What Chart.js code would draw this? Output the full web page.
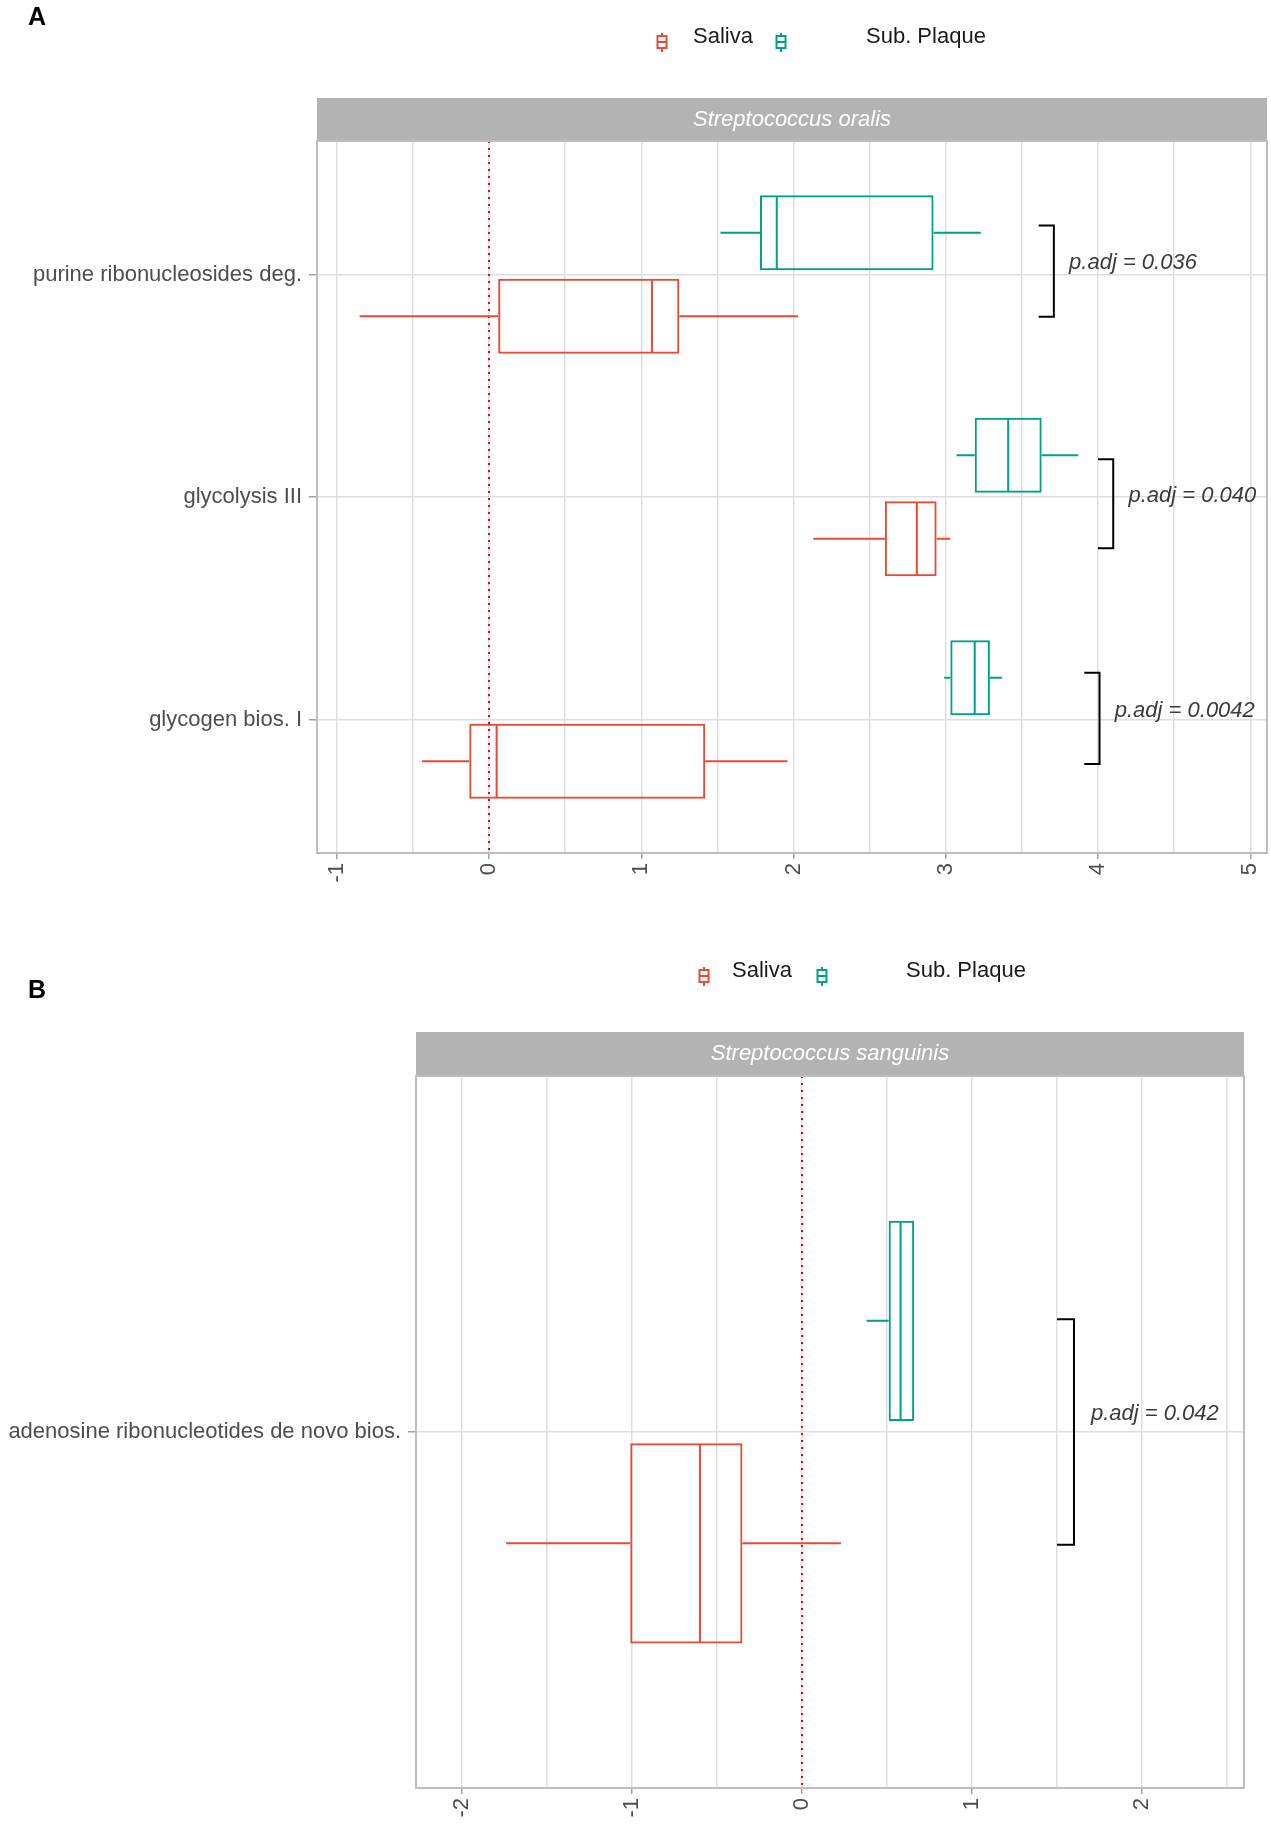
<!DOCTYPE html>
<html>
<head>
<meta charset="utf-8">
<script src="https://cdn.jsdelivr.net/npm/chart.js@4.4.1/dist/chart.umd.min.js"></script>
<style>
  body { margin: 0; background: #fff; width: 1271px; height: 1827px; position: relative; overflow: hidden;
         font-family: "Liberation Sans", Arial, sans-serif; }
  .panel { position: absolute; left: 0; }
  .tag { position: absolute; left: 28px; font-weight: bold; font-size: 25px; color: #000; z-index: 2; }
</style>
</head>
<body>
<div class="panel" style="top:0"><canvas id="chartA" width="1271" height="900"></canvas></div>
<div class="panel" style="top:900px"><canvas id="chartB" width="1271" height="927"></canvas></div>
<div class="tag" style="top:2px">A</div>
<div class="tag" style="top:975px">B</div>
<script>
const SALIVA = '#E64B35';
const PLAQUE = '#00A087';
const FONT = '"Liberation Sans", Arial, sans-serif';

// rows are [min, q1, median, q3, max]
const oralisPathways = ['purine ribonucleosides deg.', 'glycolysis III', 'glycogen bios. I'];
const oralisSaliva = [[-0.85, 0.06, 1.07, 1.25, 2.03], [2.13, 2.60, 2.81, 2.94, 3.03], [-0.44, -0.13, 0.05, 1.42, 1.96]];
const oralisPlaque = [[1.52, 1.78, 1.89, 2.92, 3.23], [3.07, 3.19, 3.41, 3.63, 3.87], [2.99, 3.03, 3.19, 3.29, 3.37]];
const oralisPadj = ['0.036', '0.040', '0.0042'];
const oralisBracketX = [3.71, 4.10, 4.01];
const oralisBracketFrom = [-0.22, 0.83, 1.79];
const oralisBracketTo = [0.19, 1.23, 2.20];
const oralisTicks = [-1, 0, 1, 2, 3, 4, 5];

const sanguinisPathways = ['adenosine ribonucleotides de novo bios.'];
const sanguinisSaliva = [[-1.74, -1.01, -0.60, -0.35, 0.23]];
const sanguinisPlaque = [[0.38, 0.51, 0.58, 0.66, 0.66]];
const sanguinisPadj = ['0.042'];
const sanguinisBracketX = [1.60];
const sanguinisBracketFrom = [-0.19];
const sanguinisBracketTo = [0.19];
const sanguinisTicks = [-2, -1, 0, 1, 2];

Chart.defaults.font.family = FONT;

function legendIcon(ctx, x, y, color) {
  ctx.strokeStyle = color;
  ctx.lineWidth = 2;
  ctx.beginPath();
  ctx.moveTo(x, y - 9); ctx.lineTo(x, y - 6);
  ctx.moveTo(x, y + 6); ctx.lineTo(x, y + 10);
  ctx.moveTo(x - 4.5, y); ctx.lineTo(x + 4.5, y);
  ctx.stroke();
  ctx.strokeRect(x - 4.5, y - 6, 9, 12);
}

function panelExtras(p) {
  return {
    id: 'panelExtras',
    beforeDatasetsDraw(chart) {
      const { ctx, chartArea: a, scales: { x } } = chart;
      const x0 = x.getPixelForValue(0);
      ctx.save();
      ctx.strokeStyle = '#e3001b';
      ctx.lineWidth = 2;
      ctx.setLineDash([2, 5]);
      ctx.beginPath(); ctx.moveTo(x0, a.top); ctx.lineTo(x0, a.bottom); ctx.stroke();
      ctx.restore();
    },
    afterDatasetsDraw(chart) {
      const { ctx, scales: { x, y } } = chart;
      ctx.save();
      chart.data.datasets.forEach((ds, di) => {
        chart.getDatasetMeta(di).data.forEach((bar, i) => {
          const [lo, q1, med, q3, hi] = ds.stats[i];
          const half = bar.height / 2 - 1;
          ctx.strokeStyle = ds.borderColor;
          ctx.lineWidth = 2;
          ctx.beginPath();
          ctx.moveTo(x.getPixelForValue(lo), bar.y); ctx.lineTo(x.getPixelForValue(q1), bar.y);
          ctx.moveTo(x.getPixelForValue(q3), bar.y); ctx.lineTo(x.getPixelForValue(hi), bar.y);
          ctx.moveTo(x.getPixelForValue(med), bar.y - half); ctx.lineTo(x.getPixelForValue(med), bar.y + half);
          ctx.stroke();
        });
      });
      ctx.strokeStyle = '#000';
      ctx.lineWidth = 2;
      ctx.fillStyle = '#3a3a3a';
      ctx.font = 'italic 22px ' + FONT;
      ctx.textAlign = 'left';
      ctx.textBaseline = 'middle';
      p.padj.forEach((pv, i) => {
        const bx = x.getPixelForValue(p.bracketX[i]);
        const tx = x.getPixelForValue(p.bracketX[i] - 0.1);
        const y1 = y.getPixelForValue(p.bracketFrom[i]);
        const y2 = y.getPixelForValue(p.bracketTo[i]);
        ctx.beginPath();
        ctx.moveTo(tx, y1); ctx.lineTo(bx, y1); ctx.lineTo(bx, y2); ctx.lineTo(tx, y2);
        ctx.stroke();
        ctx.fillText('p.adj = ' + pv, x.getPixelForValue(p.bracketX[i] + 0.1), (y1 + y2) / 2 + p.labelDy);
      });
      ctx.restore();
    },
    afterDraw(chart) {
      const { ctx, chartArea: a } = chart;
      ctx.save();
      // facet strip
      ctx.fillStyle = '#b3b3b3';
      ctx.fillRect(a.left, a.top - p.stripH, a.right - a.left, p.stripH);
      ctx.fillStyle = '#fff';
      ctx.font = 'italic 22px ' + FONT;
      ctx.textAlign = 'center';
      ctx.textBaseline = 'middle';
      ctx.fillText(p.species, (a.left + a.right) / 2, a.top - p.stripH / 2);
      // panel border
      ctx.strokeStyle = '#bdbdbd';
      ctx.lineWidth = 2;
      ctx.strokeRect(a.left, a.top, a.right - a.left, a.bottom - a.top);
      // legend
      const L = p.legend;
      legendIcon(ctx, L.x[0], L.y + 5, SALIVA);
      legendIcon(ctx, L.x[2], L.y + 5, PLAQUE);
      ctx.fillStyle = '#1a1a1a';
      ctx.font = '22px ' + FONT;
      ctx.textAlign = 'left';
      ctx.fillText('Saliva', L.x[1], L.y);
      ctx.fillText('Sub. Plaque', L.x[3], L.y);
      ctx.restore();
    }
  };
}

function boxChart(id, p) {
  const n = p.pathways.length;
  const series = (label, rows, color) => ({
    label,
    data: rows.map((r, i) => ({ y: i, x: [r[1], r[3]] })),
    stats: rows,
    backgroundColor: 'rgba(0,0,0,0)',
    borderColor: color,
    borderWidth: 2,
    borderSkipped: false,
    categoryPercentage: n === 1 ? 0.625 : 0.75,
    barPercentage: 0.9,
  });
  return new Chart(document.getElementById(id), {
    type: 'bar',
    data: { datasets: [series('Sub. Plaque', p.plaque, PLAQUE), series('Saliva', p.saliva, SALIVA)] },
    options: {
      indexAxis: 'y',
      responsive: false,
      animation: false,
      devicePixelRatio: 1,
      layout: { padding: { top: p.area.top, right: p.area.right, left: 0, bottom: 0 } },
      plugins: { legend: { display: false }, tooltip: { enabled: false } },
      scales: {
        x: {
          type: 'linear', min: p.xMin, max: p.xMax,
          afterFit: (s) => { s.height = p.area.axisH; s.paddingLeft = 0; s.paddingRight = 0; },
          ticks: {
            stepSize: 0.5, includeBounds: false, autoSkip: false, minRotation: 90, maxRotation: 90,
            padding: 4, color: '#4d4d4d', font: { size: 22 },
            callback: (v) => (p.ticks.includes(v) ? String(v) : ''),
          },
          grid: {
            color: '#dedede', lineWidth: 1.5, tickLength: 6,
            tickColor: (c) => (c.tick && Number.isInteger(c.tick.value) ? '#a0a0a0' : 'rgba(0,0,0,0)'),
          },
          border: { display: false },
        },
        y: {
          type: 'linear', reverse: true, min: -0.6, max: n - 0.4, offset: false,
          afterFit: (s) => { s.width = p.area.left; },
          afterBuildTicks: (s) => { s.ticks = s.ticks.filter((t) => Number.isInteger(t.value) && t.value >= 0 && t.value < n); },
          ticks: {
            stepSize: 1, includeBounds: false, padding: 7, color: '#4d4d4d', font: { size: 22 },
            callback: (v) => p.pathways[v],
          },
          grid: { offset: false, color: '#dedede', lineWidth: 1.5, tickLength: 8, tickColor: '#a0a0a0' },
          border: { display: false },
        },
      },
    },
    plugins: [panelExtras(p)],
  });
}

boxChart('chartA', {
  species: 'Streptococcus oralis',
  pathways: oralisPathways, saliva: oralisSaliva, plaque: oralisPlaque,
  padj: oralisPadj, bracketX: oralisBracketX, bracketFrom: oralisBracketFrom, bracketTo: oralisBracketTo,
  ticks: oralisTicks, xMin: -1.13, xMax: 5.11,
  area: { left: 317, right: 4, top: 141, axisH: 47 },
  stripH: 43, labelDy: -8,
  legend: { y: 37, x: [662, 693, 781, 866] },
});

boxChart('chartB', {
  species: 'Streptococcus sanguinis',
  pathways: sanguinisPathways, saliva: sanguinisSaliva, plaque: sanguinisPlaque,
  padj: sanguinisPadj, bracketX: sanguinisBracketX, bracketFrom: sanguinisBracketFrom, bracketTo: sanguinisBracketTo,
  ticks: sanguinisTicks, xMin: -2.27, xMax: 2.60,
  area: { left: 416, right: 27, top: 176, axisH: 39 },
  stripH: 44, labelDy: -18,
  legend: { y: 71, x: [704, 732, 822, 906] },
});
</script>
</body>
</html>
